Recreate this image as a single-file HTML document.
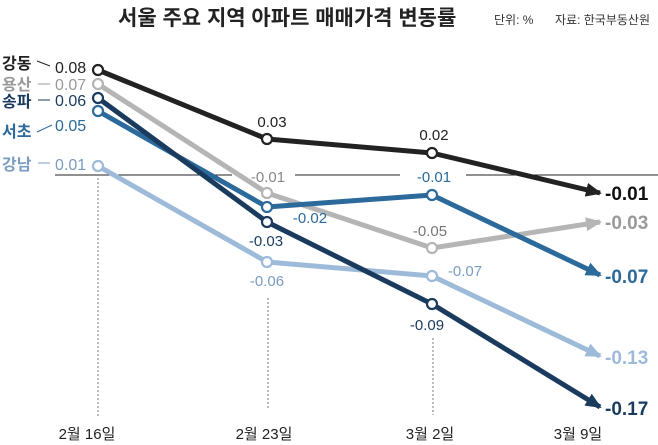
<!DOCTYPE html><html><head><meta charset="utf-8"><style>body{margin:0;background:#fff}svg{display:block}text{font-family:"Liberation Sans","Noto Sans CJK KR",sans-serif}</style></head><body>
<svg width="658" height="445" viewBox="0 0 658 445">
<defs>
<marker id="a1" markerWidth="16" markerHeight="14" refX="14" refY="7" orient="auto" markerUnits="userSpaceOnUse"><path d="M0,0L16,7L0,14z" fill="#222"/></marker>
<marker id="a2" markerWidth="16" markerHeight="14" refX="14" refY="7" orient="auto" markerUnits="userSpaceOnUse"><path d="M0,0L16,7L0,14z" fill="#b5b5b5"/></marker>
<marker id="a3" markerWidth="16" markerHeight="14" refX="14" refY="7" orient="auto" markerUnits="userSpaceOnUse"><path d="M0,0L16,7L0,14z" fill="#1b3b5e"/></marker>
<marker id="a4" markerWidth="16" markerHeight="14" refX="14" refY="7" orient="auto" markerUnits="userSpaceOnUse"><path d="M0,0L16,7L0,14z" fill="#2c6a9c"/></marker>
<marker id="a5" markerWidth="16" markerHeight="14" refX="14" refY="7" orient="auto" markerUnits="userSpaceOnUse"><path d="M0,0L16,7L0,14z" fill="#9dbbd9"/></marker>
</defs>
<text x="118" y="25" font-size="21" font-weight="bold" fill="#222">서울 주요 지역 아파트 매매가격 변동률</text>
<text x="494" y="24" font-size="12" fill="#333">단위: %</text>
<text x="555" y="24" font-size="12" fill="#333">자료: 한국부동산원</text>
<g stroke="#222" stroke-width="1"><line x1="55" y1="175" x2="232" y2="175"/><line x1="295" y1="175" x2="400" y2="175"/><line x1="466" y1="175" x2="658" y2="175"/></g>
<g stroke="#777" stroke-dasharray="2,2" stroke-width="1"><line x1="98" y1="178" x2="98" y2="418"/><line x1="268" y1="298" x2="268" y2="408"/><line x1="433" y1="338" x2="433" y2="415"/></g>
<g fill="none" stroke-width="5" stroke-linejoin="round">
<polyline points="98,166 267,262 432,276 600,356" stroke="#9dbbd9" marker-end="url(#a5)"/>
<polyline points="98,84 267,193 432,248 600,222" stroke="#b5b5b5" marker-end="url(#a2)"/>
<polyline points="98,111 267,207 432,195 600,275" stroke="#2c6a9c" marker-end="url(#a4)"/>
<polyline points="98,98 267,222 432,304 600,407" stroke="#1b3b5e" marker-end="url(#a3)"/>
<polyline points="98,70 267,139 432,153 600,193" stroke="#222" marker-end="url(#a1)"/>
</g>
<g fill="#fff" stroke-width="2.2">
<circle cx="98" cy="166" r="5" stroke="#9dbbd9"/><circle cx="267" cy="262" r="5" stroke="#9dbbd9"/><circle cx="432" cy="276" r="5" stroke="#9dbbd9"/>
<circle cx="98" cy="84" r="5" stroke="#b5b5b5"/><circle cx="267" cy="193" r="5" stroke="#b5b5b5"/><circle cx="432" cy="248" r="5" stroke="#b5b5b5"/>
<circle cx="98" cy="111" r="5" stroke="#2c6a9c"/><circle cx="267" cy="207" r="5" stroke="#2c6a9c"/><circle cx="432" cy="195" r="5" stroke="#2c6a9c"/>
<circle cx="98" cy="98" r="5" stroke="#1b3b5e"/><circle cx="267" cy="222" r="5" stroke="#1b3b5e"/><circle cx="432" cy="304" r="5" stroke="#1b3b5e"/>
<circle cx="98" cy="70" r="5" stroke="#222"/><circle cx="267" cy="139" r="5" stroke="#222"/><circle cx="432" cy="153" r="5" stroke="#222"/>
</g>
<g font-size="16">
<text x="2" y="69" fill="#222" font-weight="bold">강동</text><line x1="37" y1="61" x2="50" y2="66" stroke="#222"/><text x="55" y="73" fill="#222">0.08</text>
<text x="2" y="90" fill="#999" font-weight="bold">용산</text><line x1="38" y1="84" x2="50" y2="84" stroke="#999"/><text x="55" y="90" fill="#999">0.07</text>
<text x="2" y="107" fill="#1b3b5e" font-weight="bold">송파</text><line x1="38" y1="100" x2="50" y2="100" stroke="#1b3b5e"/><text x="55" y="106" fill="#1b3b5e">0.06</text>
<text x="2" y="137" fill="#2c6a9c" font-weight="bold">서초</text><line x1="37" y1="132" x2="52" y2="125" stroke="#2c6a9c"/><text x="55" y="131" fill="#2c6a9c">0.05</text>
<text x="2" y="170" fill="#7a9cc0" font-weight="bold">강남</text><line x1="38" y1="163" x2="50" y2="163" stroke="#7a9cc0"/><text x="55" y="170" fill="#7a9cc0">0.01</text>
</g>
<g font-size="15" text-anchor="middle">
<text x="272" y="127" fill="#222">0.03</text>
<text x="434" y="140" fill="#222">0.02</text>
<text x="268" y="182" fill="#888">-0.01</text>
<text x="434" y="182" fill="#2c6a9c">-0.01</text>
<text x="310" y="223" fill="#2c6a9c">-0.02</text>
<text x="266" y="246" fill="#1b3b5e">-0.03</text>
<text x="267" y="286" fill="#7a9cc0">-0.06</text>
<text x="430" y="236" fill="#777">-0.05</text>
<text x="465" y="276" fill="#7a9cc0">-0.07</text>
<text x="427" y="330" fill="#1b3b5e">-0.09</text>
</g>
<g font-size="19" font-weight="bold">
<text x="605" y="200" fill="#111">-0.01</text>
<text x="605" y="229" fill="#999">-0.03</text>
<text x="605" y="283" fill="#2c6a9c">-0.07</text>
<text x="605" y="364" fill="#9dbbd9">-0.13</text>
<text x="605" y="415" fill="#1b3b5e">-0.17</text>
</g>
<g font-size="15" text-anchor="middle" fill="#222">
<text x="87" y="439">2월 16일</text><text x="264" y="439">2월 23일</text><text x="430" y="439">3월 2일</text><text x="578" y="439">3월 9일</text>
</g>
</svg></body></html>
